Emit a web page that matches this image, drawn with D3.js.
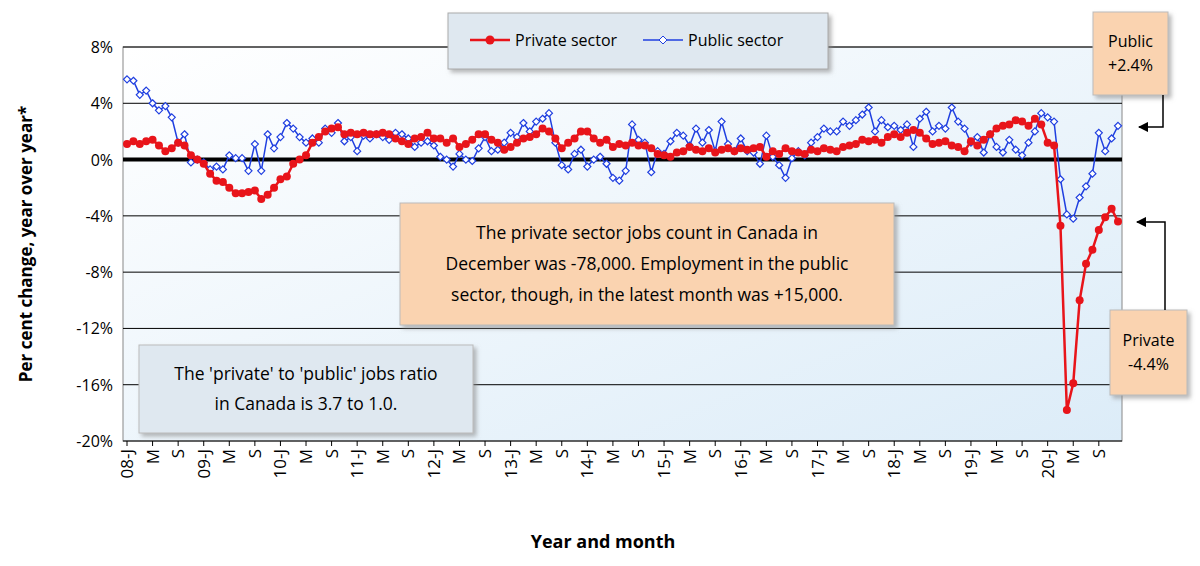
<!DOCTYPE html>
<html><head><meta charset="utf-8">
<script src="https://cdn.jsdelivr.net/npm/d3@7"></script>
<style>body{margin:0;background:#fff;font-family:"Open Sans",sans-serif}</style>
</head><body><svg id="c" width="1200" height="566"></svg>
<script>
const years = [2008,2009,2010,2011,2012,2013,2014,2015,2016,2017,2018,2019,2020];
const yTicks = [8,4,0,-4,-8,-12,-16,-20];
const monthLetters = ["J","M","S"];
const privateSector = [
1.1,1.3,1.1,1.3,1.4,1.0,0.6,0.8,1.2,1.0,0.3,0.0,
-0.3,-1.0,-1.5,-1.6,-2.0,-2.4,-2.4,-2.3,-2.2,-2.8,-2.5,-2.0,
-1.4,-1.2,-0.3,0.0,0.3,1.2,1.6,2.0,2.2,2.3,1.8,1.9,
1.8,1.9,1.8,1.8,1.9,1.8,1.5,1.3,1.1,1.5,1.6,1.9,
1.5,1.5,1.2,1.5,0.9,1.1,1.4,1.8,1.8,1.4,1.2,0.7,
0.9,1.2,1.5,1.6,1.8,2.2,2.0,1.5,0.8,1.2,1.5,2.0,
2.0,1.5,1.2,1.4,0.9,1.1,1.0,1.2,1.0,1.0,0.8,0.4,
0.3,0.2,0.5,0.6,0.9,0.7,0.6,0.8,0.5,0.7,0.8,0.6,
0.8,0.7,0.8,0.9,0.2,0.6,0.4,0.8,0.6,0.5,0.4,0.7,
0.6,0.8,0.7,0.6,0.9,1.0,1.1,1.4,1.3,1.4,1.2,1.6,
1.8,1.6,1.9,2.1,1.9,1.5,1.1,1.2,1.3,1.0,0.9,0.6,
1.3,1.0,1.4,1.8,2.2,2.4,2.5,2.8,2.7,2.4,2.9,2.5,
1.2,1.0,-4.7,-17.8,-15.9,-10.0,-7.4,-6.4,-5.0,-4.1,-3.5,-4.4];
const publicSector = [
5.7,5.6,4.6,4.9,4.0,3.5,3.8,3.0,1.2,1.8,-0.2,0.0,
-0.2,-0.7,-0.5,-0.7,0.3,0.1,0.1,-0.8,1.1,-0.8,1.8,0.8,
1.6,2.6,2.2,1.6,1.2,1.5,1.2,2.2,1.9,2.6,1.3,1.6,
0.6,1.7,1.5,1.8,1.6,1.4,1.9,1.8,1.5,0.9,1.2,1.3,
1.0,0.2,0.0,-0.5,0.4,0.0,-0.1,0.8,1.6,0.6,0.7,1.2,
1.9,1.6,2.6,2.0,2.7,2.9,3.3,1.2,-0.4,-0.7,0.4,0.7,
-0.5,0.0,0.2,-0.3,-1.3,-1.5,-0.8,2.5,1.4,1.2,-0.9,0.6,
0.4,1.3,1.9,1.7,1.0,2.2,1.2,2.1,0.6,2.7,1.1,0.6,
1.5,0.6,0.5,-0.3,1.7,0.2,-0.4,-1.3,0.1,0.6,0.3,1.2,
1.6,2.2,2.0,2.0,2.7,2.4,2.8,3.2,3.7,2.0,2.8,2.3,
2.4,2.1,2.5,0.9,2.9,3.4,2.0,2.4,2.2,3.7,2.7,2.2,
1.2,1.6,0.5,1.8,0.9,0.5,1.4,0.7,0.3,1.2,2.0,3.3,
3.0,2.7,-1.4,-3.9,-4.2,-2.7,-1.9,-1.0,1.9,0.6,1.5,2.4];

const svg = d3.select("#c");
const L=123,R=1122,T=47,B=441;
const n = privateSector.length;
const x = d3.scaleLinear().domain([0,n-1]).range([127,1118]);
const y = d3.scaleLinear().domain([-20,8]).range([B,T]);
const defs = svg.append("defs");
const g1 = defs.append("linearGradient").attr("id","bg").attr("x1",0).attr("y1",0).attr("x2",1).attr("y2",1);
g1.append("stop").attr("offset","0").attr("stop-color","#ffffff");
g1.append("stop").attr("offset","1").attr("stop-color","#dcecf8");
const sh = defs.append("filter").attr("id","sh").attr("x","-10%").attr("y","-10%").attr("width","130%").attr("height","140%");
sh.append("feDropShadow").attr("dx",3).attr("dy",3).attr("stdDeviation",2).attr("flood-color","#888").attr("flood-opacity",0.6);
const mk = defs.append("marker").attr("id","ar").attr("viewBox","0 0 10 10").attr("refX",9).attr("refY",5)
  .attr("markerWidth",7).attr("markerHeight",7).attr("orient","auto");
mk.append("path").attr("d","M0,0L10,5L0,10z").attr("fill","#000");

svg.append("rect").attr("x",L).attr("y",T).attr("width",R-L).attr("height",B-T).attr("fill","url(#bg)").attr("stroke","#888");
yTicks.forEach(t=>{
  svg.append("line").attr("x1",L).attr("x2",R).attr("y1",y(t)).attr("y2",y(t))
    .attr("stroke","#000").attr("stroke-width",t===0?4:1);
  svg.append("text").attr("x",L-10).attr("y",y(t)+6).attr("text-anchor","end")
    .attr("font-size",16).text(t+"%");
});
for(let i=0;i<n;i+=4){
  const yr = years[Math.floor(i/12)], m=(i%12)/4;
  const lab = m===0 ? String(yr).slice(2)+"-J" : monthLetters[m];
  svg.append("line").attr("x1",x(i)).attr("x2",x(i)).attr("y1",B).attr("y2",B+5).attr("stroke","#000");
  svg.append("text").attr("transform",`translate(${x(i)+6},${B+8}) rotate(-90)`).attr("text-anchor","end")
    .attr("font-size",17).text(lab);
}
const line = d3.line().x((d,i)=>x(i)).y(d=>y(d));
svg.append("path").datum(publicSector).attr("d",line).attr("fill","none").attr("stroke","#1f3fe0").attr("stroke-width",1.5);
svg.selectAll(".pu").data(publicSector).join("path").attr("transform",(d,i)=>`translate(${x(i)},${y(d)})`)
  .attr("d","M0,-3.5L3.5,0L0,3.5L-3.5,0Z").attr("fill","#fff").attr("stroke","#1f3fe0").attr("stroke-width",1.2);
svg.append("path").datum(privateSector).attr("d",line).attr("fill","none").attr("stroke","#e8141a").attr("stroke-width",2.5);
svg.selectAll(".pr").data(privateSector).join("circle").attr("cx",(d,i)=>x(i)).attr("cy",d=>y(d)).attr("r",4).attr("fill","#e8141a");

svg.append("text").attr("transform","translate(32,244) rotate(-90)").attr("text-anchor","middle")
  .attr("font-size",17).attr("font-weight","bold").text("Per cent change, year over year*");
svg.append("text").attr("x",603).attr("y",548).attr("text-anchor","middle").attr("font-size",18).attr("font-weight","bold").text("Year and month");

svg.append("rect").attr("x",448).attr("y",13).attr("width",380).attr("height",56).attr("fill","#dfe8f0").attr("stroke","#aaa").attr("filter","url(#sh)");
svg.append("line").attr("x1",470).attr("x2",510).attr("y1",40).attr("y2",40).attr("stroke","#e8141a").attr("stroke-width",2.5);
svg.append("circle").attr("cx",490).attr("cy",40).attr("r",4.5).attr("fill","#e8141a");
svg.append("text").attr("x",515).attr("y",46).attr("font-size",16).text("Private sector");
svg.append("line").attr("x1",643).attr("x2",683).attr("y1",40).attr("y2",40).attr("stroke","#1f3fe0").attr("stroke-width",1.5);
svg.append("path").attr("transform","translate(663,40)").attr("d","M0,-4L4,0L0,4L-4,0Z").attr("fill","#fff").attr("stroke","#1f3fe0");
svg.append("text").attr("x",688).attr("y",46).attr("font-size",16).text("Public sector");

function box(x0,y0,w,h,fill,lines,fs,lh){
  svg.append("rect").attr("x",x0).attr("y",y0).attr("width",w).attr("height",h).attr("fill",fill).attr("stroke","#bbb").attr("filter","url(#sh)");
  const t = svg.append("text").attr("text-anchor","middle").attr("font-size",fs);
  lines.forEach((s,i)=>t.append("tspan").attr("x",x0+w/2).attr("y",y0+h/2+(i-(lines.length-1)/2)*lh+fs*0.35).text(s));
}
box(400,203,494,122,"#fad3b0",["The private sector jobs count in Canada in","December was -78,000. Employment in the public","sector, though, in the latest month was +15,000."],17.5,31);
box(139,345,334,88,"#dfe8f0",["The 'private' to 'public' jobs ratio","in Canada is 3.7 to 1.0."],17.5,30);
box(1093,12,75,83,"#fad3b0",["Public","+2.4%"],16,24);
box(1110,310,77,85,"#fad3b0",["Private","-4.4%"],16,24);
svg.append("path").attr("d","M1163,95V127H1139").attr("fill","none").attr("stroke","#000").attr("stroke-width",1.5).attr("marker-end","url(#ar)");
svg.append("path").attr("d","M1165,310V222H1137").attr("fill","none").attr("stroke","#000").attr("stroke-width",1.5).attr("marker-end","url(#ar)");
</script></body></html>
